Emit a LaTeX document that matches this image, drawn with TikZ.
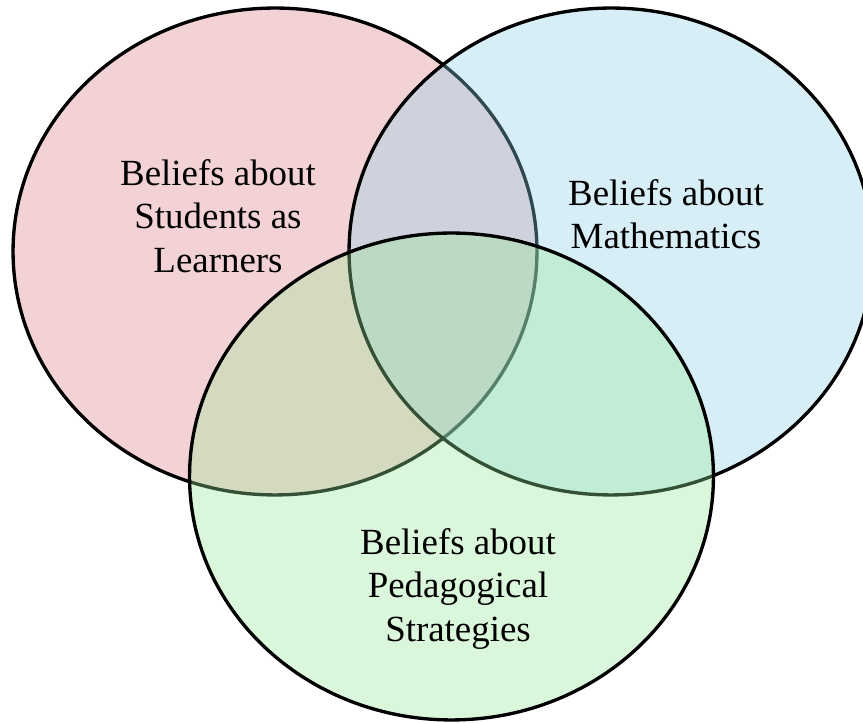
\documentclass[tikz,border=0pt]{standalone}
\usepackage{fontspec}
\setmainfont{Liberation Serif}
\usepackage{tikz}
\usetikzlibrary{positioning}
\definecolor{learnerRed}{HTML}{DE7F88}
\definecolor{mathBlue}{HTML}{8CCFE8}
\definecolor{pedGreen}{HTML}{98E998}
\tikzset{
    beliefSet/.style={draw=black, line width=1.9pt, fill opacity=0.35},
    beliefText/.style={align=center, inner sep=0pt, font=\fontsize{21}{24.7}\selectfont}
}

\begin{document}
\begin{tikzpicture}[x=0.02cm, y=0.02cm]
    % Page frame
    \useasboundingbox (0,0) rectangle (863,723);
    \clip (0,0) rectangle (863,723);

    % Centres of the three sets
    \coordinate (cLearners) at (275,471.5);
    \coordinate (cMaths) at (611,471.5);
    \coordinate (cPedagogy) at (451.5,246.5);

    % Sets, drawn in order so later fills veil earlier borders
    \draw[beliefSet, fill=learnerRed] (cLearners) ellipse [x radius=5.24cm, y radius=4.87cm];
    \draw[beliefSet, fill=mathBlue] (cMaths) ellipse [x radius=5.24cm, y radius=4.87cm];
    \draw[beliefSet, fill=pedGreen] (cPedagogy) ellipse [x radius=5.24cm, y radius=4.87cm];

    % Labels
    \node[beliefText] (learners) at (218,507) {Beliefs about\\Students as\\Learners};
    \node[beliefText] (maths) at (666,509) {Beliefs about\\Mathematics};
    \node[beliefText] (pedagogy) at (458,134) {Beliefs about\\Pedagogical\\Strategies};
\end{tikzpicture}
\end{document}
